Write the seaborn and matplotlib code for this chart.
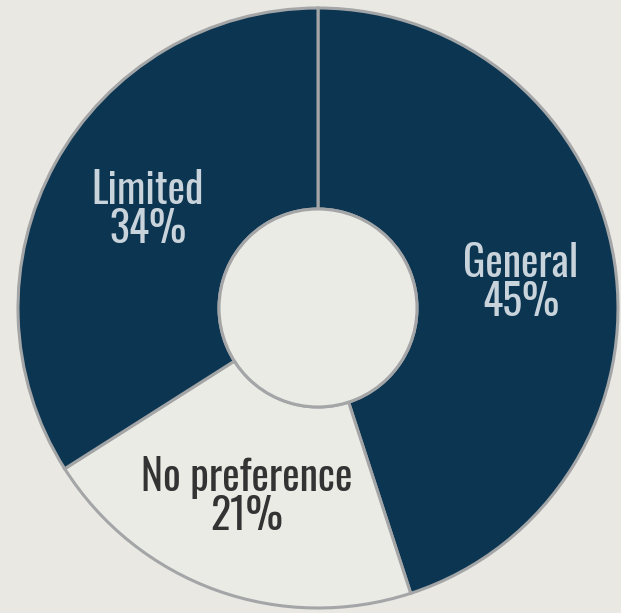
import matplotlib
matplotlib.use("Agg")
import matplotlib.pyplot as plt
import seaborn as sns

labels = ["General", "No preference", "Limited"]
shares = [45, 21, 34]
colors = ["#0b3550", "#ebebe6", "#0b3550"]
text_colors = ["#c9d3db", "#333333", "#c9d3db"]

sns.set_theme(style="white")
plt.rcParams["font.family"] = ["Oswald", "DejaVu Sans"]

bg = "#e9e8e3"
fig = plt.figure(figsize=(6.21, 6.13), dpi=100, facecolor=bg)
ax = fig.add_axes([0, 0, 1, 1])
ax.set_facecolor(bg)

wedges, _ = ax.pie(shares, colors=colors, startangle=90, counterclock=False,
                   radius=1.0, wedgeprops=dict(width=0.67, edgecolor="#a3a5a7",
                                               linewidth=2.2))
# inner ring edge
hole = plt.Circle((0, 0), 0.33, facecolor="#ebebe6", edgecolor="#a3a5a7",
                  linewidth=2.2, zorder=3)
ax.add_patch(hole)

label_pos = [(0.677, 0.083), (-0.237, -0.63), (-0.567, 0.327)]
for lab, s, (x, y), c in zip(labels, shares, label_pos, text_colors):
    ax.text(x, y, f"{lab}\n{s}%", ha="center", va="center", color=c,
            fontsize=30, linespacing=0.9)

ax.set_xlim(-318 / 300, 303 / 300)
ax.set_ylim(-305 / 300, 308 / 300)
ax.set_aspect("equal")
ax.axis("off")

fig.savefig("out.png", dpi=100, facecolor=bg)
